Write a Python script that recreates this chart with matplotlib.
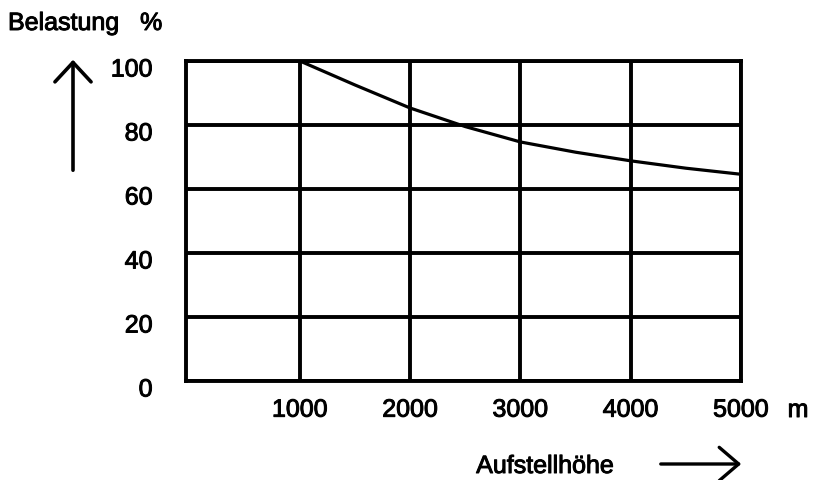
import matplotlib
matplotlib.use("Agg")
import matplotlib.pyplot as plt
import matplotlib.transforms as mtrans
import matplotlib.patheffects as pe

plt.rcParams['font.family'] = ['Liberation Sans', 'DejaVu Sans']

altitude = [1000, 1500, 2000, 2500, 3000, 3500, 4000, 4500, 5000]
load = [100, 92.5, 85.3, 79.5, 74.7, 71.5, 68.8, 66.5, 64.6]
x_ticks = [1000, 2000, 3000, 4000, 5000]
x_labels = ["1000", "2000", "3000", "4000", "5000"]
y_ticks = [0, 20, 40, 60, 80, 100]
y_labels = ["0", "20", "40", "60", "80", "100"]

W, H = 819, 481
FS = 18
bold = [pe.withStroke(linewidth=0.7, foreground='black')]
fig = plt.figure(figsize=(W / 100, H / 100), dpi=100)
ax = fig.add_axes([186 / W, 1 - 382 / H, (741 - 186) / W, (382 - 62) / H])

ax.plot(altitude, load, color='black', lw=2.3, solid_capstyle='butt', zorder=3)
ax.set_xlim(-33, 5000)
ax.set_ylim(0, 100)
ax.set_xticks(x_ticks)
ax.set_xticklabels(x_labels, fontsize=FS)
ax.set_yticks(y_ticks)
ax.set_yticklabels(y_labels, fontsize=FS)
ax.tick_params(length=0)
ax.tick_params(axis='y', pad=24)
ax.tick_params(axis='x', pad=12)
off = mtrans.ScaledTranslation(0, -6 / 100, fig.dpi_scale_trans)
for lab in ax.get_yticklabels():
    lab.set_transform(lab.get_transform() + off)
    lab.set_path_effects(bold)
for lab in ax.get_xticklabels():
    lab.set_path_effects(bold)
ax.grid(True, color='black', lw=2.8)
for s in ax.spines.values():
    s.set_linewidth(2.8)
    s.set_color('black')

fig.text(8 / W, 1 - 24 / H, "Belastung   %", fontsize=FS, va='center', ha='left', path_effects=bold)
fig.text(798 / W, 1 - 411 / H, "m", fontsize=FS, va='center', ha='center', path_effects=bold)
fig.text(545 / W, 1 - 467 / H, "Aufstellhöhe", fontsize=FS, va='center', ha='center', path_effects=bold)

fig.add_artist(matplotlib.patches.FancyArrowPatch(
    (658 / W, 1 - 465 / H), (744 / W, 1 - 465 / H), transform=fig.transFigure,
    arrowstyle='->,head_length=14,head_width=12', color='black', lw=2.4, mutation_scale=1))
fig.add_artist(matplotlib.patches.FancyArrowPatch(
    (73 / W, 1 - 174 / H), (73 / W, 1 - 58 / H), transform=fig.transFigure,
    arrowstyle='->,head_length=14,head_width=13', color='black', lw=2.6, mutation_scale=1))

fig.savefig("out.png", dpi=100)
